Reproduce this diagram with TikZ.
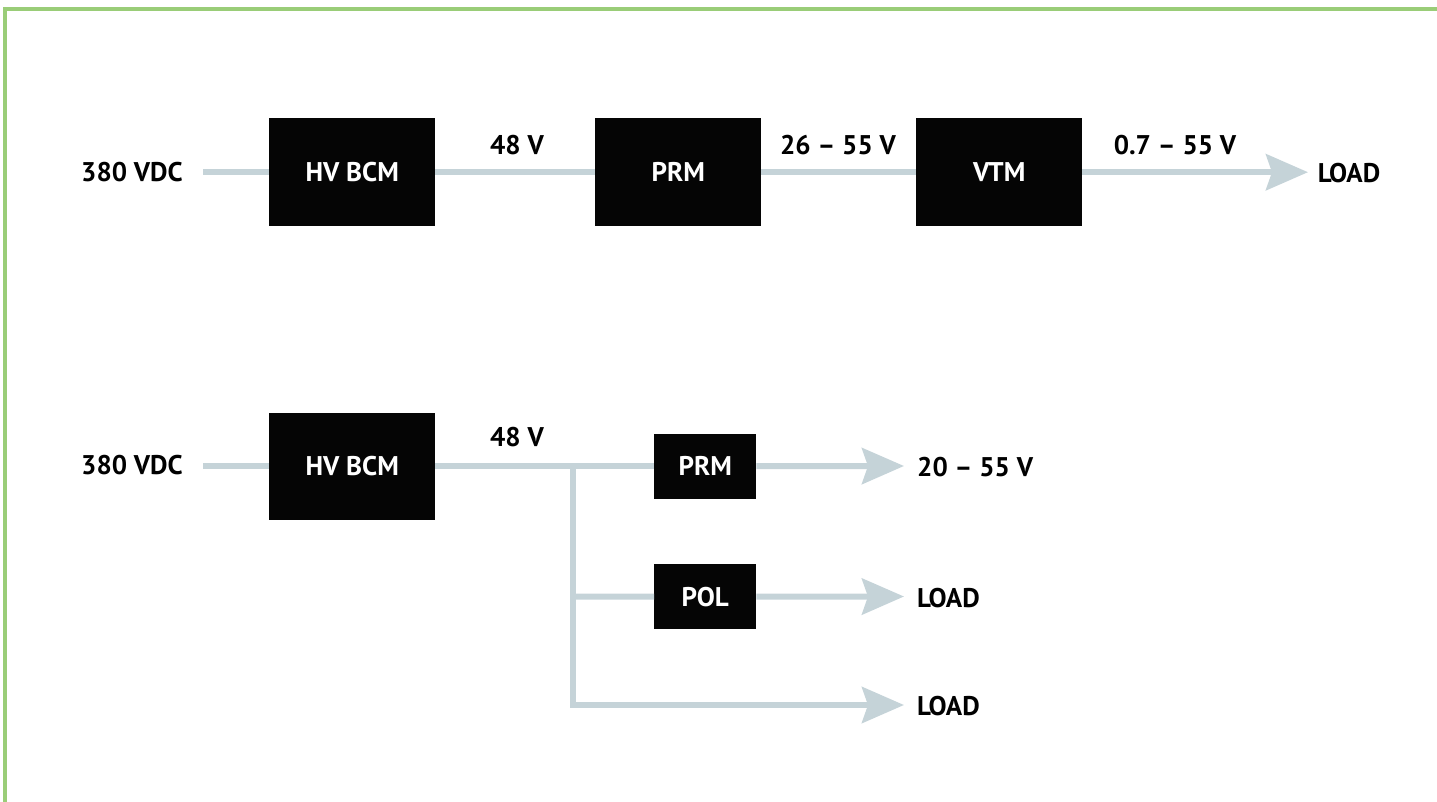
\documentclass[tikz,border=0pt]{standalone}
\usepackage{fontspec}
\setmainfont{PT Sans}
\usetikzlibrary{arrows.meta}
\definecolor{wire}{HTML}{C5D3D8}
\definecolor{frame}{HTML}{9ACD78}
\definecolor{boxblack}{HTML}{050505}
\tikzset{
  blk/.style={fill=boxblack,draw=none,text=white,font=\fontsize{27}{30}\selectfont\bfseries,inner sep=0pt,anchor=north west},
  lbl/.style={font=\fontsize{27}{30}\selectfont\bfseries,text=black,inner sep=0pt},
  wireline/.style={draw=wire,line width=6pt},
  wirearrow/.style={wireline,-{Stealth[length=42pt,width=36pt,inset=6pt]}},
}
\begin{document}
\begin{tikzpicture}[x=1pt,y=-1pt]
\useasboundingbox (0,0) rectangle (1437,802);
\draw[frame,line width=3.5pt] (5,802) -- (5,9) -- (1437,9);

% top row
\node[lbl] (in1) at (132,172) {380 VDC};
\node[blk,minimum width=166pt,minimum height=108pt] (bcm1) at (269,118) {HV BCM};
\node[blk,minimum width=166pt,minimum height=108pt] (prm1) at (595,118) {PRM};
\node[blk,minimum width=166pt,minimum height=108pt] (vtm1) at (916,118) {VTM};
\node[lbl] (load1) at (1349,173) {LOAD};
\node[lbl] (v48a) at (517,145) {48 V};
\node[lbl] (v2655) at (838,145) {26 – 55 V};
\node[lbl] (v0755) at (1175,145) {0.7 – 55 V};
\coordinate (s1) at (203,172);
\draw[wireline] (bcm1.west -| s1) -- (bcm1.west);
\draw[wireline] (bcm1.east) -- (prm1.west);
\draw[wireline] (prm1.east) -- (vtm1.west);
\coordinate (t1) at (1308,172);
\draw[wirearrow] (vtm1.east) -- (vtm1.east -| t1);

% bottom row
\node[lbl] (in2) at (132,465) {380 VDC};
\node[blk,minimum width=166pt,minimum height=107pt] (bcm2) at (269,412.5) {HV BCM};
\node[blk,minimum width=102pt,minimum height=65pt] (prm2) at (654,433.5) {PRM};
\node[blk,minimum width=102pt,minimum height=65pt] (pol2) at (654,564) {POL};
\node[lbl] (v48b) at (517,437) {48 V};
\node[lbl,anchor=west] (v2055) at (917,467) {20 – 55 V};
\node[lbl,anchor=west] (load2) at (917,598) {LOAD};
\node[lbl,anchor=west] (load3) at (917,706) {LOAD};
\coordinate (s2) at (203,466);
\coordinate (j1) at (573,466);
\coordinate (j2) at (573,596.5);
\coordinate (j3) at (573,705);
\coordinate (t2) at (904,466);
\coordinate (t3) at (904,596.5);
\coordinate (t4) at (904,705);
\draw[wireline] (bcm2.west -| s2) -- (bcm2.west);
\draw[wireline] (bcm2.east) -- (prm2.west);
\draw[wireline,line cap=rect] (j1) -- (j3);
\draw[wireline] (j2) -- (pol2.west);
\draw[wirearrow] (prm2.east) -- (t2);
\draw[wirearrow] (pol2.east) -- (t3);
\draw[wirearrow] ([xshift=-3pt]j3) -- (t4);
\end{tikzpicture}
\end{document}
